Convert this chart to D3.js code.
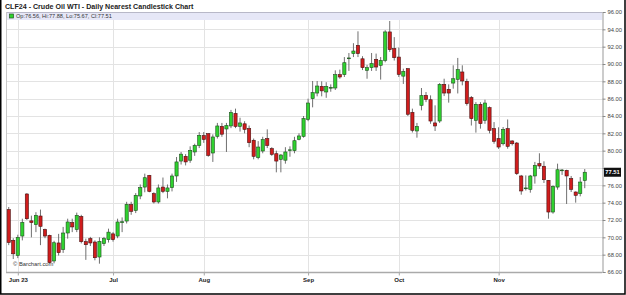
<!DOCTYPE html>
<html>
<head>
	<meta charset="utf-8">
	<script src="https://d3js.org/d3.v7.min.js"></script>
	<title>CLF24 - Crude Oil WTI</title>
	<style>
		body { margin: 0; background: #fff; }
		text { font-family: "Liberation Sans", Arial, sans-serif; }
	</style>
</head>
<body>
<div id="d3-container"></div>
<script>

// daily bars, May 30 2023 .. Nov 29 2023 (index = trading day)
var opens = [73.2,69.65,67.9,70.15,75.0,71.9,71.46,72.46,70.9,70.23,67.27,69.35,68.6,70.5,71.7,70.9,72.4,69.5,69.85,69.46,
  67.73,69.27,69.73,70.4,70.15,71.7,71.88,73.77,73.1,74.77,75.8,77.15,75.04,74.08,75.8,75.3,75.73,77.08,78.8,79.35,
  78.9,79.85,80.6,81.73,81.96,79.73,81.65,82.8,82.5,82.85,84.3,82.8,83.1,82.54,81.2,79.2,79.96,81.4,80.23,79.65,
  79.0,78.9,80.05,80.0,81.3,81.65,83.6,86.0,86.65,87.42,86.77,87.27,87.23,88.77,88.77,90.66,91.2,92.15,90.6,89.27,
  89.58,90.54,89.85,90.42,93.7,91.77,90.8,88.6,89.46,84.42,82.27,85.23,86.38,85.88,83.2,83.42,87.65,87.08,87.8,88.23,
  89.08,88.0,86.12,83.5,85.35,83.5,84.96,82.54,81.4,80.8,82.54,81.12,80.88,77.08,75.65,75.54,77.08,78.5,78.2,76.58,
  72.92,75.8,77.72,77.73,76.77,75.23,75.04,76.56]
var highs = [73.5,69.9,70.3,72.15,75.1,72.5,72.9,73.2,71.0,70.3,69.6,70.4,71.2,72.15,72.15,72.85,72.6,69.85,70.05,69.65,
  70.0,70.05,71.0,70.6,72.15,72.3,74.1,74.1,75.1,76.1,77.35,77.2,75.2,76.1,76.9,76.1,77.35,79.27,79.85,79.6,
  80.5,80.8,82.15,82.15,82.0,81.88,83.2,83.2,83.2,84.7,84.85,83.8,83.4,82.9,81.4,81.1,81.6,82.46,80.4,80.0,
  79.6,80.4,80.5,81.6,82.0,84.0,86.0,88.04,88.04,88.0,87.9,87.65,89.27,89.35,90.8,91.27,92.4,93.77,90.9,89.9,
  91.27,91.2,90.8,93.9,94.96,93.1,91.9,89.46,89.5,84.85,83.2,87.23,86.77,86.38,85.23,87.8,88.3,87.65,89.85,90.7,
  89.85,88.3,86.3,85.6,85.6,85.88,85.1,83.3,82.7,82.73,83.6,81.2,81.0,77.2,77.15,77.2,78.7,79.7,78.77,76.6,
  76.0,78.5,77.88,77.8,77.08,75.3,76.96,77.88]
var lows = [69.1,67.5,67.6,69.65,72.0,70.0,70.6,69.1,69.9,67.0,67.0,67.9,68.2,69.85,70.6,70.6,69.3,67.4,69.0,67.35,
  66.96,69.0,69.4,69.5,69.9,70.6,71.6,72.6,72.8,74.4,75.2,75.2,73.9,73.9,75.1,74.5,75.3,76.4,78.4,78.3,
  78.6,79.4,80.3,80.9,79.3,78.7,81.4,81.6,79.85,82.6,82.6,82.2,82.0,80.4,79.0,79.0,79.7,80.3,79.4,77.5,
  77.5,78.5,79.3,79.7,81.2,81.5,83.4,85.0,86.27,86.27,86.1,86.8,87.0,88.3,88.5,89.2,90.8,90.8,89.3,88.3,
  89.2,89.2,88.2,90.2,91.4,90.4,88.5,87.7,84.0,82.1,81.5,84.65,85.6,83.1,82.27,83.2,86.3,85.54,87.15,86.6,
  87.54,85.2,82.9,82.08,82.54,83.1,82.0,80.8,80.2,80.6,80.23,80.6,77.2,74.92,75.4,75.15,76.2,77.9,76.27,72.15,
  72.73,75.5,77.2,73.85,75.23,74.0,74.73,75.67]
var closes = [69.4,68.1,70.0,71.73,72.15,71.7,72.54,71.27,70.15,67.08,69.38,68.23,70.5,71.77,71.2,72.54,69.5,69.15,69.35,67.65,
  69.54,69.85,70.6,69.73,71.77,71.8,73.8,73.0,74.85,75.73,76.88,75.3,74.08,75.7,75.3,75.7,77.08,78.7,79.6,78.7,
  80.04,80.6,81.77,81.3,79.46,81.58,82.85,81.9,82.9,84.4,82.8,83.2,82.46,80.92,79.35,80.42,81.27,80.6,79.58,78.8,
  79.5,79.85,80.1,81.15,81.7,83.7,85.5,86.7,87.46,86.9,87.42,87.3,88.77,88.5,90.15,90.7,91.5,91.2,89.58,89.58,
  90.04,89.65,90.42,93.7,91.65,90.73,88.8,89.15,84.2,82.35,82.8,86.35,85.92,83.42,82.85,87.65,86.65,86.65,88.3,89.35,
  88.04,85.42,83.7,85.35,83.12,85.5,82.35,81.08,80.42,82.46,80.5,80.8,77.35,75.35,75.7,77.08,78.3,78.23,76.65,72.92,
  75.88,77.8,77.77,77.08,75.54,74.85,76.38,77.51]

// month gridlines (bar index of first trading day) and labels
var monthIdx = [2, 23, 43, 66, 86, 108]
var monthLabels = ["Jun 23", "Jul", "Aug", "Sep", "Oct", "Nov"]
var yTicks = [66,68,70,72,74,76,78,80,82,84,86,88,90,92,94,96]

var W = 626, H = 295
var pLeft = 6, pRight = 602, pTop = 12, pBottom = 272

var data = opens.map(function(o, i) {
  return {i: i, o: o, h: highs[i], l: lows[i], c: closes[i]}
})
var last = data[data.length - 1]

var svg = d3.select("#d3-container")
  .append("svg")
    .attr("width", W)
    .attr("height", H)

var x = d3.scaleLinear()
    .domain([-0.6, data.length + 2.8])
    .range([pLeft, pRight])

var y = d3.scaleLinear()
    .domain([66, 96])
    .range([pBottom, pTop])

// title
svg.append("text")
    .attr("x", 5)
    .attr("y", 8.5)
    .style("font-size", "7.1px")
    .style("font-weight", "bold")
    .style("fill", "#222")
    .text("CLF24 - Crude Oil WTI - Daily Nearest Candlestick Chart")

// grid
svg.append("g").selectAll("line")
  .data(yTicks)
  .enter().append("line")
    .attr("x1", pLeft).attr("x2", pRight)
    .attr("y1", function(d){ return Math.round(y(d)) + 0.5 })
    .attr("y2", function(d){ return Math.round(y(d)) + 0.5 })
    .attr("stroke", "#e3e3e3")

svg.append("g").selectAll("line")
  .data(monthIdx)
  .enter().append("line")
    .attr("x1", function(d){ return Math.round(x(d)) + 0.5 })
    .attr("x2", function(d){ return Math.round(x(d)) + 0.5 })
    .attr("y1", pTop).attr("y2", pBottom + 3)
    .attr("stroke", "#e3e3e3")

// legend band
svg.append("rect")
    .attr("x", pLeft).attr("y", pTop)
    .attr("width", pRight - pLeft).attr("height", 8)
    .attr("fill", "#e6e7f7")
svg.append("line")
    .attr("x1", pLeft).attr("x2", pRight)
    .attr("y1", pTop + 0.5).attr("y2", pTop + 0.5)
    .attr("stroke", "#b8b8c8")
svg.append("rect")
    .attr("x", 9.5).attr("y", 14)
    .attr("width", 4).attr("height", 4)
    .attr("fill", "#2fd12f")
    .attr("stroke", "#225522")
    .attr("stroke-width", 0.7)
svg.append("text")
    .attr("x", 16)
    .attr("y", 16.3)
    .attr("dominant-baseline", "middle")
    .style("font-size", "5.6px")
    .style("fill", "#333")
    .text("Op:" + last.o.toFixed(2) + ", Hi:" + last.h.toFixed(2) + ", Lo:" + last.l.toFixed(2) + ", Cl:" + last.c.toFixed(2))

// frame / axes
svg.append("line")
    .attr("x1", pLeft + 0.5).attr("x2", pLeft + 0.5)
    .attr("y1", pTop).attr("y2", pBottom)
    .attr("stroke", "#c8c8c8")
svg.append("line")
    .attr("x1", pLeft).attr("x2", pRight)
    .attr("y1", pBottom + 0.5).attr("y2", pBottom + 0.5)
    .attr("stroke", "#aaa")
    .attr("stroke-width", 1.5)

var yAxis = svg.append("g")
    .attr("transform", "translate(" + (pRight + 0.5) + ",0)")
    .call(d3.axisRight(y).tickValues(yTicks).tickSize(3).tickPadding(2).tickFormat(d3.format(".2f")))
yAxis.select(".domain").attr("stroke", "#999")
yAxis.selectAll(".tick line").attr("stroke", "#888")
yAxis.selectAll("text")
    .style("font-size", "5.8px")
    .style("font-family", "'Liberation Sans', Arial, sans-serif")
    .attr("fill", "#444")
// the last-price tag sits on top of the nearest label, as on barchart
yAxis.selectAll(".tick text")
    .filter(function(d){ return Math.abs(y(d) - y(last.c)) < 7 })
    .remove()

var xAxis = svg.append("g")
    .attr("transform", "translate(0," + (pBottom + 0.5) + ")")
    .call(d3.axisBottom(x).tickValues(monthIdx).tickSize(3).tickPadding(2)
      .tickFormat(function(d, i){ return monthLabels[i] }))
xAxis.select(".domain").remove()
xAxis.selectAll(".tick line").attr("stroke", "#aaa")
xAxis.selectAll("text")
    .style("font-size", "6px")
    .style("font-weight", "bold")
    .style("font-family", "'Liberation Sans', Arial, sans-serif")
    .attr("fill", "#222")

// candles
var bw = 3.2
var candles = svg.append("g").selectAll("g")
  .data(data)
  .enter().append("g")

candles.append("line")
    .attr("x1", function(d){ return x(d.i) })
    .attr("x2", function(d){ return x(d.i) })
    .attr("y1", function(d){ return y(d.h) })
    .attr("y2", function(d){ return y(d.l) })
    .attr("stroke", "#606060")
    .attr("stroke-width", 0.9)

candles.append("rect")
    .attr("x", function(d){ return x(d.i) - bw / 2 })
    .attr("y", function(d){ return y(Math.max(d.o, d.c)) })
    .attr("width", bw)
    .attr("height", function(d){ return Math.max(0.8, Math.abs(y(d.o) - y(d.c))) })
    .attr("fill", function(d){ return d.c >= d.o ? "#2fd12f" : "#d01c1c" })
    .attr("stroke", function(d){ return d.c >= d.o ? "#1f4f1f" : "#4a1010" })
    .attr("stroke-width", 0.6)

// last price tag
svg.append("rect")
    .attr("x", pRight + 2).attr("y", y(last.c) - 4.5)
    .attr("width", 17).attr("height", 9)
    .attr("fill", "#111")
svg.append("text")
    .attr("x", pRight + 10.5).attr("y", y(last.c) + 0.3)
    .attr("text-anchor", "middle")
    .attr("dominant-baseline", "middle")
    .style("font-size", "5.8px")
    .style("font-weight", "bold")
    .style("fill", "#fff")
    .text(last.c.toFixed(2))

svg.append("text")
    .attr("x", 13)
    .attr("y", 266)
    .style("font-size", "5.8px")
    .style("fill", "#333")
    .text("\u00a9 Barchart.com")

// outer border
svg.append("path")
    .attr("d", "M0.75,0 V" + (H - 1) + " H" + (W - 1) + " V0")
    .attr("fill", "none")
    .attr("stroke", "#000")
    .attr("stroke-width", 1.5)

</script>
</body>
</html>
